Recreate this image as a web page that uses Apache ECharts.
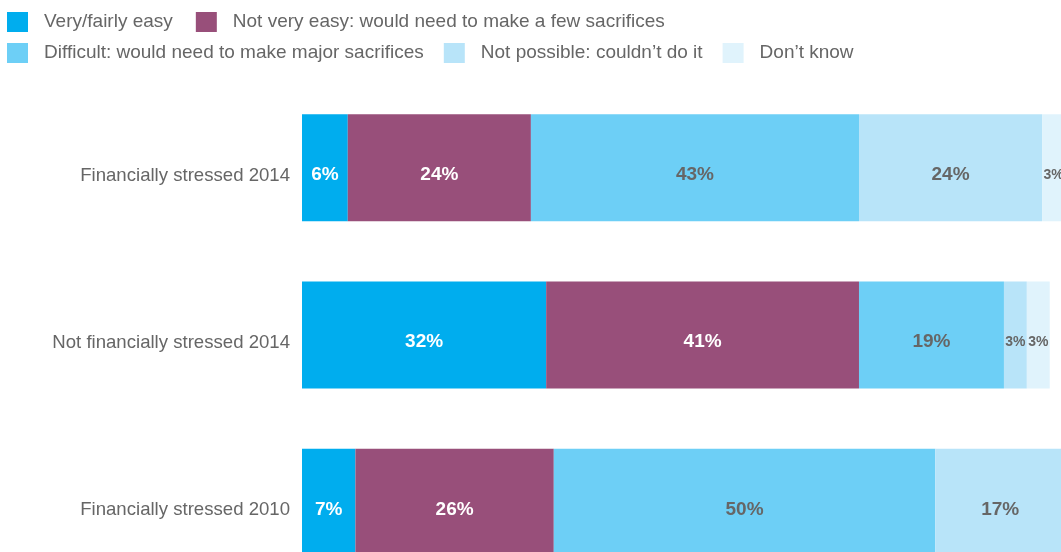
<!DOCTYPE html>
<html>
<head>
<meta charset="utf-8">
<script src="https://cdn.jsdelivr.net/npm/echarts@6/dist/echarts.min.js"></script>
<style>
  html, body { margin: 0; padding: 0; background: #fff; }
  #chart { width: 1061px; height: 552px; }
</style>
</head>
<body>
<div id="chart"></div>
<script>
// Groups, top to bottom
const categories = ['Financially stressed 2014', 'Not financially stressed 2014', 'Financially stressed 2010'];

// Answer shares (%) per group
const seriesNames = [
  'Very/fairly easy',
  'Not very easy: would need to make a few sacrifices',
  'Difficult: would need to make major sacrifices',
  'Not possible: couldn\u2019t do it',
  'Don\u2019t know'
];
const veryEasy     = [6, 32, 7];
const notVeryEasy  = [24, 41, 26];
const difficult    = [43, 19, 50];
const notPossible  = [24, 3, 17];
const dontKnow     = [3, 3, 0];

const values = [veryEasy, notVeryEasy, difficult, notPossible, dontKnow];
const colors = ['#00adee', '#984f7a', '#6dcff6', '#b8e4f9', '#e0f3fc'];
const labelColors = ['#ffffff', '#ffffff', '#666666', '#666666', '#666666'];

const FONT = '"Liberation Sans", Arial, Helvetica, sans-serif';

const chart = echarts.init(document.getElementById('chart'), null, { renderer: 'canvas' });

// Narrow segments get a smaller label so it fits inside the bar
const series = seriesNames.map((name, i) => ({
  name,
  type: 'bar',
  stack: 'total',
  barWidth: 107,
  itemStyle: { color: colors[i] },
  emphasis: { disabled: true },
  data: values[i].map(v => ({
    value: v,
    label: {
      show: v > 0,
      position: 'inside',
      offset: [0, 7],
      fontFamily: FONT,
      fontWeight: 'bold',
      fontSize: v <= 3 ? 14 : 19,
      color: labelColors[i],
      formatter: '{c}%'
    }
  }))
}));

const legendBase = {
  orient: 'horizontal',
  left: 7,
  padding: 0,
  itemWidth: 21,
  itemHeight: 20,
  icon: 'rect',
  selectedMode: false,
  textStyle: {
    fontFamily: FONT,
    fontSize: 19,
    color: '#666666',
    padding: [0, 0, 0, 11]
  }
};

chart.setOption({
  animation: false,
  backgroundColor: '#ffffff',
  legend: [
    Object.assign({}, legendBase, { top: 12, itemGap: 23, data: seriesNames.slice(0, 2) }),
    Object.assign({}, legendBase, { top: 43, itemGap: 20, data: seriesNames.slice(2) })
  ],
  grid: {
    left: 302, top: 84, width: 763, height: 502,
    containLabel: false,
    outerBoundsMode: 'none'
  },
  xAxis: {
    type: 'value',
    min: 0,
    max: 100,
    show: false
  },
  yAxis: {
    type: 'category',
    inverse: true,
    data: categories,
    axisLine: { show: false },
    axisTick: { show: false },
    axisLabel: {
      margin: 12,
      formatter: v => '{l|' + v + '}',
      rich: {
        l: {
          fontFamily: FONT,
          fontSize: 18.6,
          color: '#666666',
          padding: [16, 0, 0, 0]
        }
      }
    }
  },
  series
});
</script>
</body>
</html>
